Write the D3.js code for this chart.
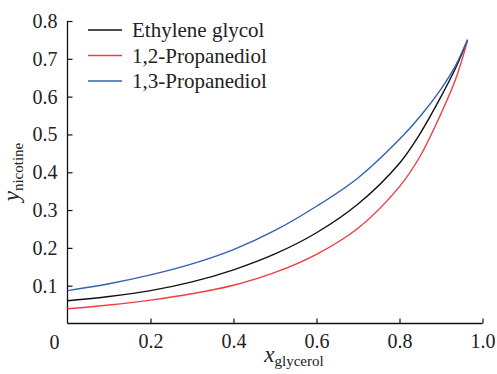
<!DOCTYPE html>
<html>
<head>
<meta charset="utf-8">
<script src="https://cdn.jsdelivr.net/npm/d3@7"></script>
<style>
html,body{margin:0;padding:0;background:#fff;}
svg{display:block;}
text{font-family:"Liberation Serif","Times New Roman",serif;}
</style>
</head>
<body>
<svg id="chart" width="497" height="374"></svg>
<script>
const xVals = [0, 0.1, 0.2, 0.3, 0.4, 0.5, 0.6, 0.7, 0.8, 0.85, 0.9, 0.935, 0.964];
const ethyleneGlycol = [0.060, 0.0715, 0.0869, 0.110, 0.142, 0.184, 0.240, 0.316, 0.424, 0.503, 0.600, 0.675, 0.749];
const propanediol12 = [0.039, 0.0489, 0.0618, 0.0786, 0.1011, 0.135, 0.183, 0.252, 0.362, 0.443, 0.555, 0.645, 0.748];
const propanediol13 = [0.087, 0.1052, 0.1285, 0.1577, 0.1955, 0.2461, 0.310, 0.385, 0.487, 0.548, 0.620, 0.682, 0.751];
const seriesNames = ["Ethylene glycol", "1,2-Propanediol", "1,3-Propanediol"];
const seriesColors = ["#111111", "#ef3e42", "#3560b2"];
const yTicks = [0.1, 0.2, 0.3, 0.4, 0.5, 0.6, 0.7, 0.8];
const xTicks = [0.2, 0.4, 0.6, 0.8, 1.0];

const FONT = "Liberation Serif";
const svg = d3.select("#chart");
const x = d3.scaleLinear().domain([0, 1]).range([67.5, 482.5]);
const y = d3.scaleLinear().domain([0, 0.8]).range([323.5, 21]);

const yAxis = d3.axisLeft(y).tickValues(yTicks).tickSize(-5).tickPadding(10).tickFormat(d3.format(".1f"));
const gy = svg.append("g").attr("transform", `translate(${x(0)},0)`).call(yAxis)
  .attr("font-family", FONT).attr("font-size", 20);
gy.select(".domain").attr("d", `M0,${y(0)}V${y(0.8)}`).attr("stroke", "#111").attr("stroke-width", 1.3);
gy.selectAll(".tick line").attr("stroke", "#111").attr("stroke-width", 1.2);
gy.selectAll(".tick text").attr("fill", "#222");

const xAxis = d3.axisBottom(x).tickValues(xTicks).tickSize(-5).tickPadding(10).tickFormat(d3.format(".1f"));
const gx = svg.append("g").attr("transform", `translate(0,${y(0)})`).call(xAxis)
  .attr("font-family", FONT).attr("font-size", 20);
gx.select(".domain").attr("d", `M${x(0)},0H${x(1)}`).attr("stroke", "#111").attr("stroke-width", 1.3);
gx.selectAll(".tick line").attr("stroke", "#111").attr("stroke-width", 1.2);
gx.selectAll(".tick text").attr("fill", "#222");

svg.append("text").attr("x", x(0) - 13).attr("y", y(0) + 25).attr("text-anchor", "middle")
  .attr("font-family", FONT).attr("font-size", 20).attr("fill", "#222").text("0");

const all = [ethyleneGlycol, propanediol12, propanediol13];
const line = d3.line().x((d, i) => x(xVals[i])).y(d => y(d)).curve(d3.curveCatmullRom.alpha(0.5));
all.forEach((vals, k) => {
  svg.append("path").datum(vals).attr("fill", "none").attr("stroke", seriesColors[k])
    .attr("stroke-width", 1.4).attr("d", line);
});

const leg = svg.append("g").attr("font-family", FONT).attr("font-size", 21);
seriesNames.forEach((name, k) => {
  const yy = 30 + k * 25.5;
  leg.append("line").attr("x1", 88).attr("x2", 122).attr("y1", yy).attr("y2", yy)
    .attr("stroke", seriesColors[k]).attr("stroke-width", 1.4);
  leg.append("text").attr("x", 132).attr("y", yy + 7).attr("fill", "#222").text(name);
});

const xt = svg.append("text").attr("x", 294).attr("y", 362).attr("text-anchor", "middle")
  .attr("font-family", FONT).attr("fill", "#222");
xt.append("tspan").attr("font-style", "italic").attr("font-size", 23).text("x");
xt.append("tspan").attr("font-size", 15).attr("dy", 4).text("glycerol");

const yt = svg.append("text").attr("transform", "translate(19,172) rotate(-90)").attr("text-anchor", "middle")
  .attr("font-family", FONT).attr("fill", "#222");
yt.append("tspan").attr("font-style", "italic").attr("font-size", 23).text("y");
yt.append("tspan").attr("font-size", 15).attr("dy", 4).text("nicotine");
</script>
</body>
</html>
